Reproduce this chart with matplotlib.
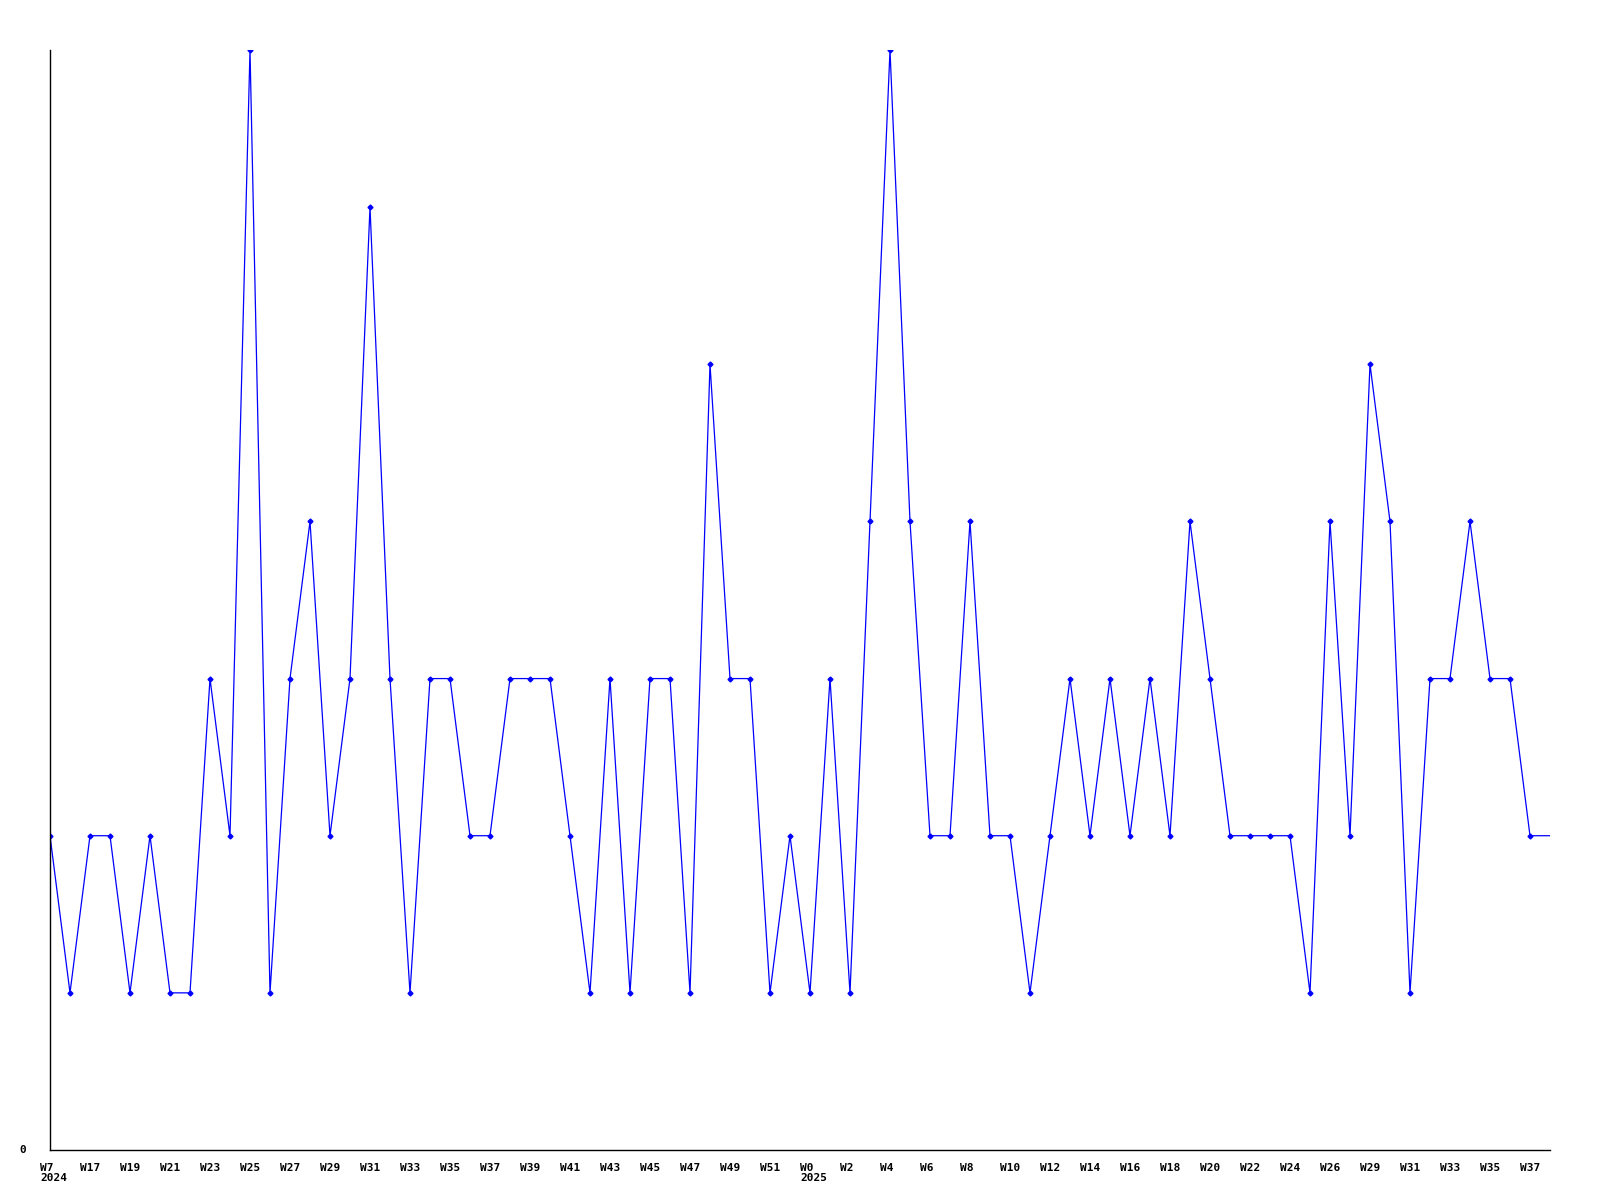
import matplotlib.pyplot as plt
from matplotlib import transforms

# weekly counts (last point is the running week, drawn without a marker)
values = [2, 1, 2, 2, 1, 2, 1, 1, 3, 2, 7, 1, 3, 4, 2, 3, 6, 3, 1, 3,
          3, 2, 2, 3, 3, 3, 2, 1, 3, 1, 3, 3, 1, 5, 3, 3, 1, 2, 1, 3,
          1, 4, 7, 4, 2, 2, 4, 2, 2, 1, 2, 3, 2, 3, 2, 3, 2, 4, 3, 2,
          2, 2, 2, 1, 4, 2, 5, 4, 1, 3, 3, 4, 3, 3, 2, 2]

# one label every second point
week_labels = ['W7', 'W17', 'W19', 'W21', 'W23', 'W25', 'W27', 'W29', 'W31',
               'W33', 'W35', 'W37', 'W39', 'W41', 'W43', 'W45', 'W47', 'W49',
               'W51', 'W0', 'W2', 'W4', 'W6', 'W8', 'W10', 'W12', 'W14',
               'W16', 'W18', 'W20', 'W22', 'W24', 'W26', 'W29', 'W31', 'W33',
               'W35', 'W37']
year_labels = {0: '2024', 19: '2025'}  # index into week_labels

font = dict(family='DejaVu Sans Mono', fontweight='bold', fontsize=8)

fig = plt.figure(figsize=(16, 12), dpi=100)
ax = fig.add_axes([50 / 1600, 50 / 1200, 1500 / 1600, 1100 / 1200])

x = list(range(len(values)))
ax.plot(x, values, color='#0000ff', lw=0.9, marker='D', markersize=2.5,
        markevery=list(range(len(values) - 1)))

ax.set_xlim(0, len(values) - 1)
ax.set_ylim(0, 7)

for s in ['top', 'right']:
    ax.spines[s].set_visible(False)
for s in ['left', 'bottom']:
    ax.spines[s].set_color('black')
    ax.spines[s].set_linewidth(1)

ax.set_xticks([])
ax.set_yticks([])

# y label "0"
ax.text(-0.016, 0, '0', transform=ax.transAxes, ha='right', va='center', **font)

# x labels, left aligned slightly before each tick
trans = transforms.blended_transform_factory(ax.transData, ax.transAxes)
off = transforms.offset_copy(trans, fig=fig, x=-10, y=0, units='dots')
for i, lab in enumerate(week_labels):
    xi = 2 * i
    ax.text(xi, -0.012, lab, transform=off, ha='left', va='top', **font)
    if i in year_labels:
        ax.text(xi, -0.0205, year_labels[i], transform=off, ha='left', va='top', **font)

plt.savefig('out.png', dpi=100)
plt.close(fig)
